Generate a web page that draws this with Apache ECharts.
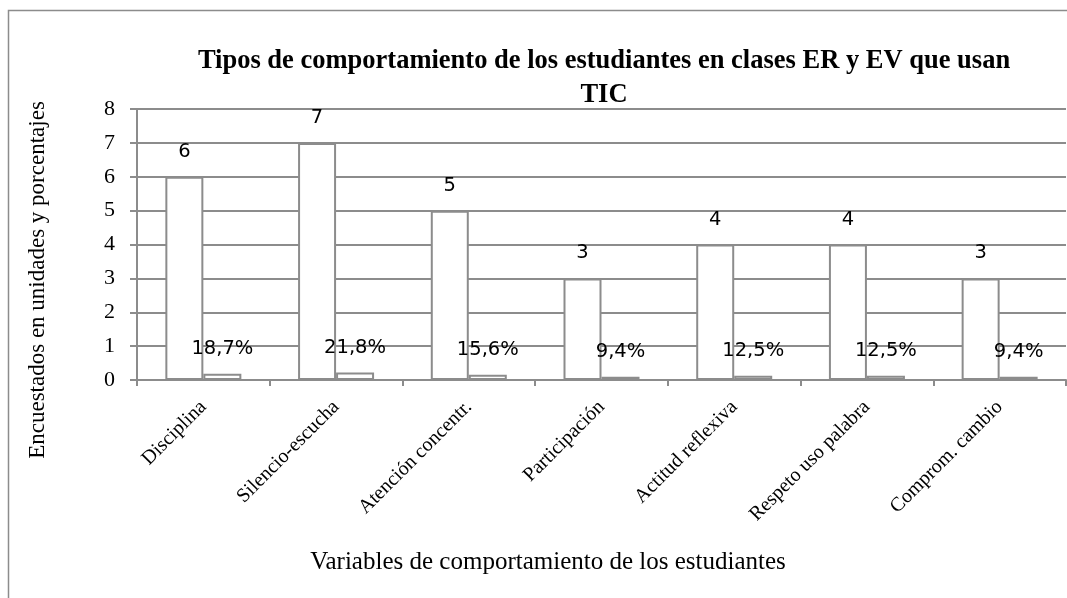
<!DOCTYPE html>
<html>
<head>
<meta charset="utf-8">
<script src="https://cdn.jsdelivr.net/npm/echarts@6/dist/echarts.min.js"></script>
<style>html,body{margin:0;padding:0;background:#fff}#c{width:1067px;height:598px}</style>
</head>
<body>
<div id="c"></div>
<script>
const categories = ['Disciplina', 'Silencio-escucha', 'Atención concentr.', 'Participación', 'Actitud reflexiva', 'Respeto uso palabra', 'Comprom. cambio'];
const counts = [6, 7, 5, 3, 4, 4, 3];
const percents = [18.7, 21.8, 15.6, 9.4, 12.5, 12.5, 9.4];
const yTicks = [0, 1, 2, 3, 4, 5, 6, 7, 8];

const chart = echarts.init(document.getElementById('c'), null, {renderer: 'canvas'});
const gray = '#8c8c8c';
const serif = '"Liberation Serif", "Times New Roman", serif';
const sans = '"DejaVu Sans", sans-serif';

chart.setOption({
  animation: false,
  backgroundColor: '#fff',
  title: {
    text: 'Tipos de comportamiento de los estudiantes en clases ER y EV que usan\nTIC',
    left: 599, top: 39, textAlign: 'center',
    textStyle: {fontFamily: serif, fontWeight: 'bold', fontSize: 26.5, lineHeight: 34, color: '#000'}
  },
  graphic: [
    {type: 'rect', shape: {x: 8.5, y: 10.5, width: 1100, height: 700}, style: {fill: 'none', stroke: gray, lineWidth: 1.5}, silent: true},
    {type: 'text', x: 38, y: 280, rotation: Math.PI / 2,
      style: {text: 'Encuestados en unidades y porcentajes', font: '23px ' + serif, fill: '#000', align: 'center', verticalAlign: 'middle'}},
    {type: 'text', x: 548, y: 562,
      style: {text: 'Variables de comportamiento de los estudiantes', font: '25px ' + serif, fill: '#000', align: 'center', verticalAlign: 'middle'}}
  ],
  grid: {left: 137, right: 1, top: 109, bottom: 218, containLabel: false},
  xAxis: {
    type: 'category', data: categories,
    axisLine: {lineStyle: {color: gray, width: 2}},
    axisTick: {show: true, length: 6, lineStyle: {color: gray, width: 2}},
    axisLabel: {rotate: 45, margin: 24, fontFamily: serif, fontSize: 20, color: '#000'},
    splitLine: {show: false}
  },
  yAxis: {
    type: 'value', min: 0, max: 8, interval: 1,
    axisLine: {show: true, lineStyle: {color: gray, width: 2}},
    axisTick: {show: true, length: 7, lineStyle: {color: gray, width: 2}},
    axisLabel: {fontFamily: serif, fontSize: 22, color: '#000', margin: 22,
      formatter: v => yTicks.includes(v) ? String(v) : ''},
    splitLine: {lineStyle: {color: gray, width: 2}}
  },
  series: [
    {
      type: 'bar', data: counts, barWidth: 38, barGap: '0%',
      itemStyle: {color: '#fff', borderColor: gray, borderWidth: 2},
      label: {show: true, position: 'top', distance: 15, fontFamily: sans, fontSize: 19.5, color: '#000'}
    },
    {
      type: 'bar', data: percents.map(p => p / 100), barWidth: 38,
      itemStyle: {color: '#fff', borderColor: gray, borderWidth: 2},
      label: {show: true, position: 'top', distance: 15, fontFamily: sans, fontSize: 19.5, color: '#000',
        formatter: p => percents[p.dataIndex].toFixed(1).replace('.', ',') + '%'}
    }
  ]
});
</script>
</body>
</html>
